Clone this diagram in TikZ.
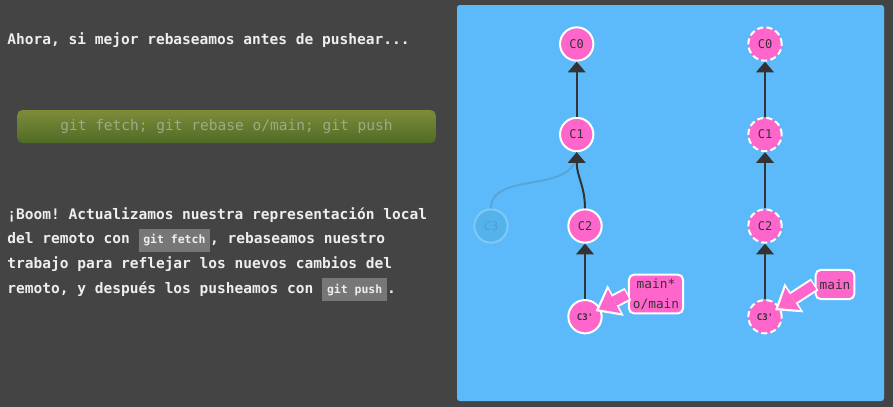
\documentclass[tikz,border=0pt]{standalone}
\usepackage{fontspec}
\setmonofont{DejaVu Sans Mono}
\usetikzlibrary{arrows.meta,positioning}
\definecolor{bgdark}{HTML}{444444}
\definecolor{panel}{HTML}{5DBAFA}
\definecolor{commitpink}{HTML}{FF66CC}
\definecolor{edgegray}{HTML}{333333}
\definecolor{ghostfill}{HTML}{55B3EC}
\definecolor{ghostline}{HTML}{80C9F5}
\definecolor{ghosttext}{HTML}{4A9FD6}
\definecolor{ghostedge}{HTML}{5AA5D8}
\definecolor{btntop}{HTML}{7E8C3A}
\definecolor{btnbot}{HTML}{4F6B25}
\definecolor{btntext}{HTML}{9DAB86}
\definecolor{codebg}{HTML}{777777}
\definecolor{prose}{HTML}{EEEEEE}
\newcommand{\inlinecode}[1]{{\setlength{\fboxsep}{0pt}%
  \colorbox{codebg}{\rule[-6pt]{0pt}{17.25pt}\hspace{3.6pt}%
  {\fontsize{8.6}{10}\selectfont\bfseries #1}\hspace{3.6pt}}}}
\tikzset{
prose/.style={
  anchor=base west,
  inner sep=0pt,
  text=prose,
  font=\ttfamily\bfseries\fontsize{10.9}{13}\selectfont
  },
button/.style={
  rectangle,
  rounded corners=4pt,
  top color=btntop,
  bottom color=btnbot,
  minimum width=314pt,
  minimum height=24.75pt,
  text=btntext,
  font=\ttfamily\fontsize{10.9}{13}\selectfont
  },
commit/.style={
  circle,
  fill=commitpink,
  draw=white,
  line width=1.5pt,
  minimum size=25pt,
  inner sep=0pt,
  text=edgegray,
  font=\ttfamily\fontsize{9}{10}\selectfont
  },
rebased/.style={font=\ttfamily\bfseries\fontsize{6.8}{8}\selectfont},
remote/.style={dash pattern=on 4.5pt off 2.5pt},
ghost/.style={
  commit,
  fill=ghostfill,
  draw=ghostline,
  text=ghosttext
  },
parent/.style={
  draw=edgegray,
  line width=1.5pt,
  -{Triangle[length=8pt,width=13.5pt,line width=0pt]}
  },
ghostlink/.style={draw=ghostedge, line width=1.5pt},
branchlbl/.style={
  rectangle,
  rounded corners=4pt,
  fill=commitpink,
  draw=white,
  line width=1.5pt,
  inner sep=3pt,
  align=center,
  text=edgegray,
  font=\ttfamily\fontsize{9.6}{15}\selectfont
  },
refouter/.style={
  draw=white,
  line width=10.5pt,
  shorten >=9pt,
  -{Triangle[length=17pt,width=26pt,line width=0pt]}
  },
refinner/.style={
  draw=commitpink,
  line width=7.5pt,
  shorten <=1pt,
  shorten >=11.8pt,
  -{Triangle[length=13pt,width=20pt,line width=0pt]}
  }
}

\begin{document}
\begin{tikzpicture}[x=0.75pt,y=-0.75pt]
\useasboundingbox (0,0) rectangle (893,407);
\fill[bgdark] (0,0) rectangle (893,407);
\fill[panel, rounded corners=2pt] (457,5) rectangle (884,401);

% text column
\node[prose] (intro) at (7,45) {Ahora, si mejor rebaseamos antes de pushear...};
\node[button] (cmd) at (226.5,126.5) {git fetch; git rebase o/main; git push};
\node[prose] (line1) at (7,219) {¡Boom! Actualizamos nuestra representación local};
\node[prose] (line2) at (7,243.7) {del remoto con \inlinecode{git fetch}, rebaseamos nuestro};
\node[prose] (line3) at (7,268.3) {trabajo para reflejar los nuevos cambios del};
\node[prose] (line4) at (7,293) {remoto, y después los pusheamos con \inlinecode{git push}.};

% local repo
\node[commit] (c0) at (576.7,44) {C0};
\node[commit] (c1) at (576.7,134.5) {C1};
\node[commit] (c2) at (585,226) {C2};
\node[commit, rebased] (c3) at (585,316.7) {C3'};
\node[ghost] (c3old) at (491,226) {C3};

\draw[ghostlink] (c3old.north) .. controls +(0,-38) and +(0,43) .. (c1.south);
\draw[parent] (c1) -- (c0);
\draw[parent] (c2.north) .. controls +(0,-22) and +(0,24) .. (c1.south);
\draw[parent] (c3) -- (c2);

% remote repo
\node[commit, remote] (oc0) at (765,44) {C0};
\node[commit, remote] (oc1) at (765,134.5) {C1};
\node[commit, remote] (oc2) at (765,226) {C2};
\node[commit, remote, rebased] (oc3) at (765,316.7) {C3'};

\draw[parent] (oc1) -- (oc0);
\draw[parent] (oc2) -- (oc1);
\draw[parent] (oc3) -- (oc2);

% branch labels
\node[branchlbl] (lblmain) at (656,294) {main*\\o/main};
\node[branchlbl, minimum height=22pt] (lblremote) at (835,284.5) {main};
\draw[refouter] (lblmain.west) -- (c3.center);
\draw[refinner] (lblmain.west) -- (c3.center);
\draw[refouter] (lblremote.west) -- (oc3.center);
\draw[refinner] (lblremote.west) -- (oc3.center);
\end{tikzpicture}
\end{document}
